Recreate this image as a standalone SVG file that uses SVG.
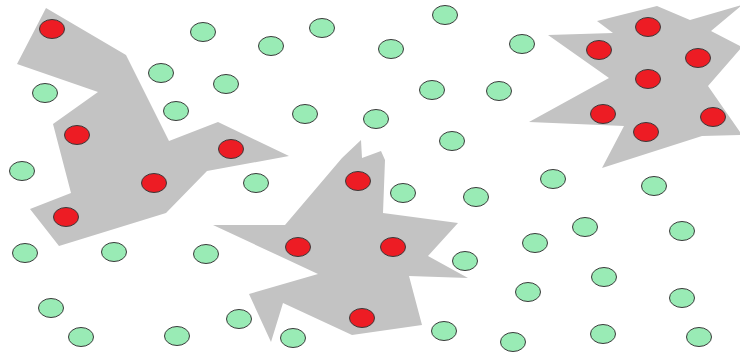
<svg xmlns="http://www.w3.org/2000/svg" width="740" height="356" viewBox="0 0 740 356">
<style>
.region{fill:#c3c3c3;stroke:none}
.g{fill:#99ebb5;stroke:#3a3a3a;stroke-width:1}
.r{fill:#ed1c24;stroke:#3a3a3a;stroke-width:1}
</style>
<defs>
<ellipse id="dot" cx="0" cy="0" rx="12.5" ry="9.5"/>
</defs>
<rect width="740" height="356" fill="#ffffff"/>
<g id="regions">
<polygon id="region1" class="region" points="46,8 126,55 169,141 218,122 289,156 207,171 166,213 59,246 30,209 71,193 53,124 98,92 17,64"/>
<polygon id="region2" class="region" points="361,140 362,158 381,151 385,160 383,213 458,223 428,256 468,278 409,276 422,325 352,335 283,303 271,342 249,294 318,274 213,225 285,225 342,158"/>
<polygon id="region3" class="region" points="657,6 690,20 742,5 711,31 742,47 708,86 742,135 702,136 602,168 624,126 529,122 609,78 548,35 613,33 597,21"/>
</g>
<g id="connectors"></g>
<g id="green-nodes">
<g id="g1"><use href="#dot" class="g" x="203" y="32"/></g>
<g id="g2"><use href="#dot" class="g" x="271" y="46"/></g>
<g id="g3"><use href="#dot" class="g" x="322" y="28"/></g>
<g id="g4"><use href="#dot" class="g" x="445" y="15"/></g>
<g id="g5"><use href="#dot" class="g" x="391" y="49"/></g>
<g id="g6"><use href="#dot" class="g" x="522" y="44"/></g>
<g id="g7"><use href="#dot" class="g" x="161" y="73"/></g>
<g id="g8"><use href="#dot" class="g" x="226" y="84"/></g>
<g id="g9"><use href="#dot" class="g" x="45" y="93"/></g>
<g id="g10"><use href="#dot" class="g" x="176" y="111"/></g>
<g id="g11"><use href="#dot" class="g" x="305" y="114"/></g>
<g id="g12"><use href="#dot" class="g" x="376" y="119"/></g>
<g id="g13"><use href="#dot" class="g" x="432" y="90"/></g>
<g id="g14"><use href="#dot" class="g" x="499" y="91"/></g>
<g id="g15"><use href="#dot" class="g" x="452" y="141"/></g>
<g id="g16"><use href="#dot" class="g" x="22" y="171"/></g>
<g id="g17"><use href="#dot" class="g" x="256" y="183"/></g>
<g id="g18"><use href="#dot" class="g" x="403" y="193"/></g>
<g id="g19"><use href="#dot" class="g" x="476" y="197"/></g>
<g id="g20"><use href="#dot" class="g" x="553" y="179"/></g>
<g id="g21"><use href="#dot" class="g" x="654" y="186"/></g>
<g id="g22"><use href="#dot" class="g" x="25" y="253"/></g>
<g id="g23"><use href="#dot" class="g" x="114" y="252"/></g>
<g id="g24"><use href="#dot" class="g" x="206" y="254"/></g>
<g id="g25"><use href="#dot" class="g" x="535" y="243"/></g>
<g id="g26"><use href="#dot" class="g" x="585" y="227"/></g>
<g id="g27"><use href="#dot" class="g" x="682" y="231"/></g>
<g id="g28"><use href="#dot" class="g" x="465" y="261"/></g>
<g id="g29"><use href="#dot" class="g" x="604" y="277"/></g>
<g id="g30"><use href="#dot" class="g" x="528" y="292"/></g>
<g id="g31"><use href="#dot" class="g" x="682" y="298"/></g>
<g id="g32"><use href="#dot" class="g" x="51" y="308"/></g>
<g id="g33"><use href="#dot" class="g" x="81" y="337"/></g>
<g id="g34"><use href="#dot" class="g" x="177" y="336"/></g>
<g id="g35"><use href="#dot" class="g" x="239" y="319"/></g>
<g id="g36"><use href="#dot" class="g" x="293" y="338"/></g>
<g id="g37"><use href="#dot" class="g" x="444" y="331"/></g>
<g id="g38"><use href="#dot" class="g" x="513" y="342"/></g>
<g id="g39"><use href="#dot" class="g" x="603" y="334"/></g>
<g id="g40"><use href="#dot" class="g" x="699" y="337"/></g>
</g>
<g id="red-nodes">
<g id="r1"><use href="#dot" class="r" x="52" y="29"/></g>
<g id="r2"><use href="#dot" class="r" x="77" y="135"/></g>
<g id="r3"><use href="#dot" class="r" x="231" y="149"/></g>
<g id="r4"><use href="#dot" class="r" x="154" y="183"/></g>
<g id="r5"><use href="#dot" class="r" x="66" y="217"/></g>
<g id="r6"><use href="#dot" class="r" x="358" y="181"/></g>
<g id="r7"><use href="#dot" class="r" x="298" y="247"/></g>
<g id="r8"><use href="#dot" class="r" x="393" y="247"/></g>
<g id="r9"><use href="#dot" class="r" x="362" y="318"/></g>
<g id="r10"><use href="#dot" class="r" x="648" y="27"/></g>
<g id="r11"><use href="#dot" class="r" x="599" y="50"/></g>
<g id="r12"><use href="#dot" class="r" x="698" y="58"/></g>
<g id="r13"><use href="#dot" class="r" x="648" y="79"/></g>
<g id="r14"><use href="#dot" class="r" x="603" y="114"/></g>
<g id="r15"><use href="#dot" class="r" x="646" y="132"/></g>
<g id="r16"><use href="#dot" class="r" x="713" y="117"/></g>
</g>
</svg>
